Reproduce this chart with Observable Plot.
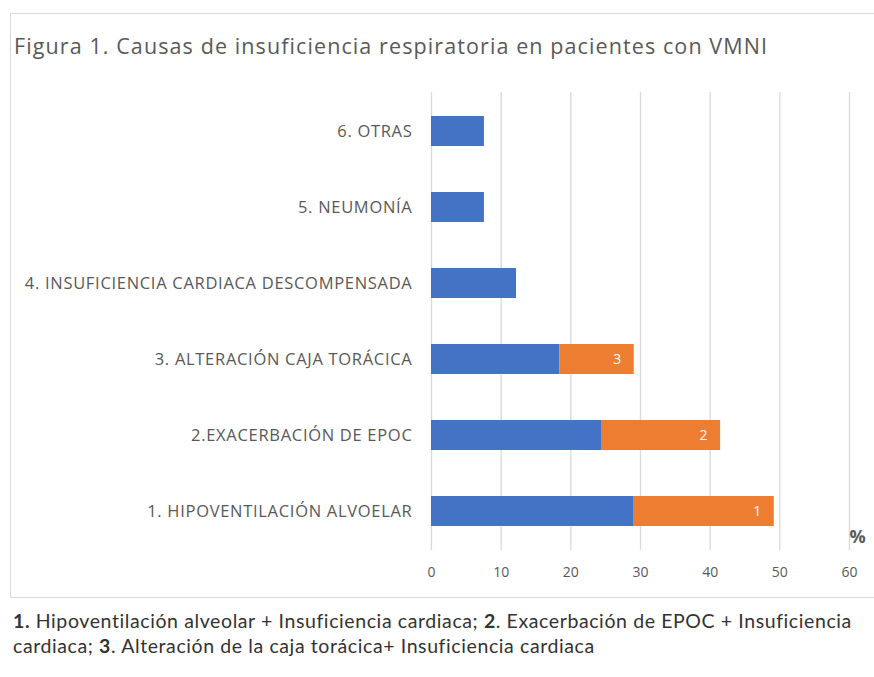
<!DOCTYPE html>
<html>
<head>
<meta charset="utf-8">
<script src="https://cdn.jsdelivr.net/npm/d3@7"></script>
<script src="https://cdn.jsdelivr.net/npm/@observablehq/plot@0.6"></script>
<style>
  html, body { margin: 0; padding: 0; background: #fff; }
  #wrap { position: relative; width: 874px; height: 677px; overflow: hidden; font-family: Lato, "Open Sans", sans-serif; }
  #frame { position: absolute; left: 10px; top: 13px; width: 870px; height: 585px; border: 1px solid #d9d9d9; box-sizing: border-box; }
  #title { position: absolute; left: 14px; top: 31px; font-family: "Open Sans", sans-serif; font-size: 21.5px; letter-spacing: 1.1px; color: #595959; white-space: nowrap; }
  #chart { position: absolute; left: 0; top: 80px; }
  #caption { position: absolute; left: 13px; top: 608px; font-size: 19.5px; letter-spacing: 0.6px; line-height: 25px; color: #333; white-space: nowrap; }
</style>
</head>
<body>
<div id="wrap">
  <div id="frame"></div>
  <div id="title">Figura 1. Causas de insuficiencia respiratoria en pacientes con VMNI</div>
  <div id="chart"></div>
  <div id="caption"><b>1.</b> Hipoventilación alveolar + Insuficiencia cardiaca; <b>2</b>. Exacerbación de EPOC + Insuficiencia<br>cardiaca; <b>3</b>. Alteración de la caja torácica+ Insuficiencia cardiaca</div>
</div>
<script>
const categories = [
  "6. OTRAS",
  "5. NEUMONÍA",
  "4. INSUFICIENCIA CARDIACA DESCOMPENSADA",
  "3. ALTERACIÓN CAJA TORÁCICA",
  "2.EXACERBACIÓN DE EPOC",
  "1. HIPOVENTILACIÓN ALVOELAR"
];
const mainValues = [7.6, 7.6, 12.2, 18.4, 24.5, 29.0];
const combinedValues = [0, 0, 0, 10.7, 17.0, 20.2];
const combinedLabels = ["", "", "", "3", "2", "1"];
const xTicks = [0, 10, 20, 30, 40, 50, 60];
const unitLabel = "%";

const rows = [];
categories.forEach((c, i) => {
  rows.push({cat: c, series: "main", value: mainValues[i]});
  if (combinedValues[i] > 0) rows.push({cat: c, series: "combined", value: combinedValues[i]});
});
const labelRows = categories.map((c, i) => ({cat: c, total: mainValues[i] + combinedValues[i], label: combinedLabels[i]}))
  .filter(d => d.label !== "");

const chart = Plot.plot({
  width: 874,
  height: 520,
  marginLeft: 431,
  marginRight: 25,
  marginTop: 12,
  marginBottom: 50,
  style: {fontFamily: "'Open Sans', Lato, sans-serif", fontSize: "14px", color: "#595959", background: "transparent"},
  x: {domain: [0, 60], label: null},
  y: {domain: categories, paddingInner: 0.607, paddingOuter: 0.303, label: null},
  color: {domain: ["main", "combined"], range: ["#4472C4", "#ED7D31"]},
  marks: [
    Plot.gridX(xTicks, {stroke: "#d9d9d9", strokeOpacity: 1, strokeWidth: 1.3}),
    Plot.barX(rows, Plot.stackX({x: "value", y: "cat", fill: "series", order: null})),
    Plot.text(labelRows, {x: "total", y: "cat", text: "label", textAnchor: "end", dx: -13, fill: "white", fontSize: 14}),
    Plot.text([unitLabel], {x: 60, frameAnchor: "bottom", text: d => d, dx: 8, dy: -8, fontSize: 18, fontWeight: "bold", fill: "#595959"}),
    Plot.axisX(xTicks, {tickSize: 0, tickPadding: 17, fontSize: 14, label: null}),
    Plot.axisY({tickSize: 0, tickPadding: 19, fontSize: 16.5, label: null})
  ]
});
d3.select(chart).selectAll("text")
  .filter(function () { return categories.includes(this.textContent); })
  .style("letter-spacing", "0.7px");
document.getElementById("chart").appendChild(chart);
</script>
</body>
</html>
